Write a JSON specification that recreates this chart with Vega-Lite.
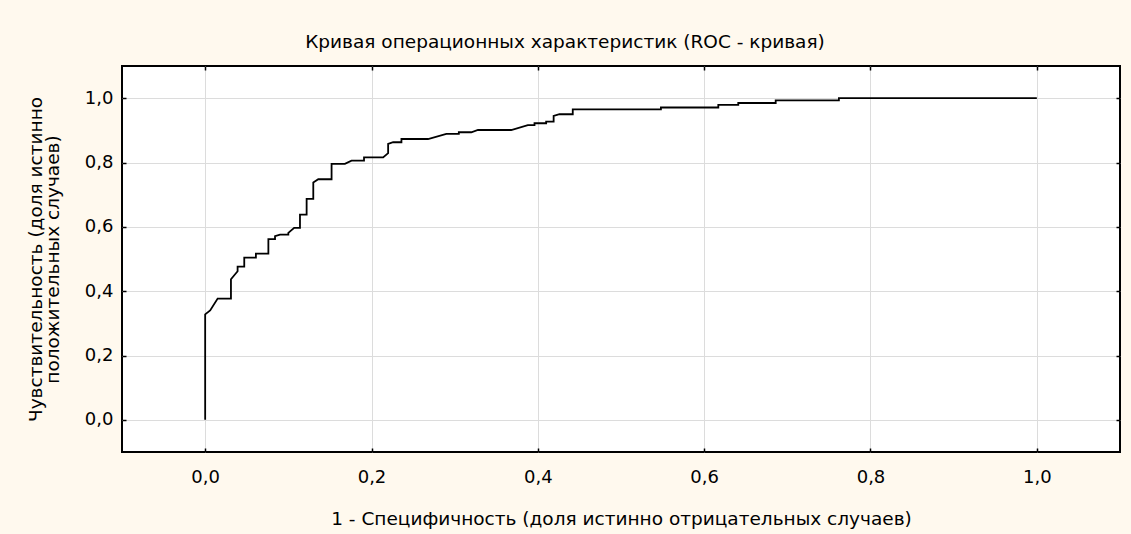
{
  "$schema": "https://vega.github.io/schema/vega-lite/v6.json",
  "width": 998,
  "height": 386,
  "autosize": {"type": "none"},
  "padding": {"left": 122, "top": 66, "right": 11, "bottom": 82},
  "background": "#FFF9EE",
  "config": {
    "font": "DejaVu Sans",
    "view": {"fill": "white", "stroke": "black", "strokeWidth": 2},
    "axis": {
      "labelFont": "DejaVu Sans",
      "titleFont": "DejaVu Sans",
      "labelFontSize": 18,
      "titleFontSize": 18.5,
      "titleFontWeight": "normal",
      "labelColor": "black",
      "titleColor": "black",
      "tickColor": "black",
      "tickWidth": 1.5,
      "tickSize": -4,
      "domain": false,
      "gridColor": "#DCDCDC",
      "gridWidth": 1,
      "gridOpacity": 1
    },
    "title": {"font": "DejaVu Sans", "fontSize": 18.5, "fontWeight": "normal", "color": "black"}
  },
  "title": {
    "text": "Кривая операционных характеристик (ROC - кривая)",
    "anchor": "middle",
    "frame": "group",
    "dx": -56,
    "offset": 14
  },
  "data": {
    "values": [
      {"i": 0, "fpr": 0.0, "tpr": 0.0},
      {"i": 1, "fpr": 0.0, "tpr": 0.328},
      {"i": 2, "fpr": 0.006, "tpr": 0.34},
      {"i": 3, "fpr": 0.015, "tpr": 0.377},
      {"i": 4, "fpr": 0.031, "tpr": 0.377},
      {"i": 5, "fpr": 0.031, "tpr": 0.437},
      {"i": 6, "fpr": 0.039, "tpr": 0.462},
      {"i": 7, "fpr": 0.039, "tpr": 0.476},
      {"i": 8, "fpr": 0.047, "tpr": 0.476},
      {"i": 9, "fpr": 0.047, "tpr": 0.504},
      {"i": 10, "fpr": 0.061, "tpr": 0.504},
      {"i": 11, "fpr": 0.061, "tpr": 0.517},
      {"i": 12, "fpr": 0.076, "tpr": 0.517},
      {"i": 13, "fpr": 0.076, "tpr": 0.562},
      {"i": 14, "fpr": 0.084, "tpr": 0.562},
      {"i": 15, "fpr": 0.084, "tpr": 0.571},
      {"i": 16, "fpr": 0.09, "tpr": 0.576},
      {"i": 17, "fpr": 0.1, "tpr": 0.576},
      {"i": 18, "fpr": 0.1, "tpr": 0.581},
      {"i": 19, "fpr": 0.107, "tpr": 0.597},
      {"i": 20, "fpr": 0.114, "tpr": 0.597},
      {"i": 21, "fpr": 0.114, "tpr": 0.638},
      {"i": 22, "fpr": 0.122, "tpr": 0.638},
      {"i": 23, "fpr": 0.122, "tpr": 0.687},
      {"i": 24, "fpr": 0.13, "tpr": 0.687},
      {"i": 25, "fpr": 0.13, "tpr": 0.738},
      {"i": 26, "fpr": 0.136, "tpr": 0.748},
      {"i": 27, "fpr": 0.152, "tpr": 0.748},
      {"i": 28, "fpr": 0.152, "tpr": 0.796},
      {"i": 29, "fpr": 0.168, "tpr": 0.796},
      {"i": 30, "fpr": 0.176, "tpr": 0.806},
      {"i": 31, "fpr": 0.191, "tpr": 0.806},
      {"i": 32, "fpr": 0.191, "tpr": 0.816},
      {"i": 33, "fpr": 0.214, "tpr": 0.816},
      {"i": 34, "fpr": 0.22, "tpr": 0.829},
      {"i": 35, "fpr": 0.22, "tpr": 0.858},
      {"i": 36, "fpr": 0.226, "tpr": 0.863},
      {"i": 37, "fpr": 0.236, "tpr": 0.863},
      {"i": 38, "fpr": 0.236, "tpr": 0.873},
      {"i": 39, "fpr": 0.268, "tpr": 0.873},
      {"i": 40, "fpr": 0.29, "tpr": 0.889},
      {"i": 41, "fpr": 0.305, "tpr": 0.889},
      {"i": 42, "fpr": 0.305, "tpr": 0.894},
      {"i": 43, "fpr": 0.32, "tpr": 0.894},
      {"i": 44, "fpr": 0.328, "tpr": 0.901},
      {"i": 45, "fpr": 0.368, "tpr": 0.901},
      {"i": 46, "fpr": 0.388, "tpr": 0.916},
      {"i": 47, "fpr": 0.396, "tpr": 0.916},
      {"i": 48, "fpr": 0.396, "tpr": 0.922},
      {"i": 49, "fpr": 0.41, "tpr": 0.922},
      {"i": 50, "fpr": 0.41, "tpr": 0.927},
      {"i": 51, "fpr": 0.419, "tpr": 0.927},
      {"i": 52, "fpr": 0.419, "tpr": 0.945},
      {"i": 53, "fpr": 0.426, "tpr": 0.95},
      {"i": 54, "fpr": 0.442, "tpr": 0.95},
      {"i": 55, "fpr": 0.442, "tpr": 0.965},
      {"i": 56, "fpr": 0.548, "tpr": 0.965},
      {"i": 57, "fpr": 0.548, "tpr": 0.971},
      {"i": 58, "fpr": 0.617, "tpr": 0.971},
      {"i": 59, "fpr": 0.617, "tpr": 0.979},
      {"i": 60, "fpr": 0.641, "tpr": 0.979},
      {"i": 61, "fpr": 0.641, "tpr": 0.985},
      {"i": 62, "fpr": 0.686, "tpr": 0.985},
      {"i": 63, "fpr": 0.686, "tpr": 0.993},
      {"i": 64, "fpr": 0.762, "tpr": 0.993},
      {"i": 65, "fpr": 0.762, "tpr": 1.0},
      {"i": 66, "fpr": 1.0, "tpr": 1.0}
    ]
  },
  "layer": [
    {
      "description": "Mirror ticks along the top and right edges of the plot frame",
      "mark": {"type": "line", "strokeOpacity": 0},
      "encoding": {
        "x": {
          "field": "fpr", "type": "quantitative",
          "scale": {"domain": [-0.1, 1.1], "nice": false, "zero": false},
          "axis": {"orient": "top", "values": [0, 0.2, 0.4, 0.6, 0.8, 1.0], "labels": false, "grid": false, "title": null}
        },
        "y": {
          "field": "tpr", "type": "quantitative",
          "scale": {"domain": [-0.1, 1.1], "nice": false, "zero": false},
          "axis": {"orient": "right", "values": [0, 0.2, 0.4, 0.6, 0.8, 1.0], "labels": false, "grid": false, "title": null}
        },
        "order": {"field": "i", "type": "quantitative"}
      }
    },
    {
      "mark": {"type": "line", "color": "black", "strokeWidth": 1.8, "interpolate": "linear"},
      "encoding": {
        "x": {
          "field": "fpr", "type": "quantitative",
          "scale": {"domain": [-0.1, 1.1], "nice": false, "zero": false},
          "axis": {
            "orient": "bottom",
            "grid": true,
            "values": [0, 0.2, 0.4, 0.6, 0.8, 1.0],
            "labelExpr": "replace(format(datum.value, '.1f'), '.', ',')",
            "labelPadding": 20,
            "title": "1 - Специфичность (доля истинно отрицательных случаев)",
            "titlePadding": 23
          }
        },
        "y": {
          "field": "tpr", "type": "quantitative",
          "scale": {"domain": [-0.1, 1.1], "nice": false, "zero": false},
          "axis": {
            "orient": "left",
            "grid": true,
            "values": [0, 0.2, 0.4, 0.6, 0.8, 1.0],
            "labelExpr": "replace(format(datum.value, '.1f'), '.', ',')",
            "labelPadding": 13,
            "title": ["Чувствительность  (доля истинно", "положительных случаев)"],
            "titlePadding": 22,
            "titleLineHeight": 17
          }
        },
        "order": {"field": "i", "type": "quantitative"}
      }
    }
  ],
  "resolve": {"axis": {"x": "independent", "y": "independent"}}
}
